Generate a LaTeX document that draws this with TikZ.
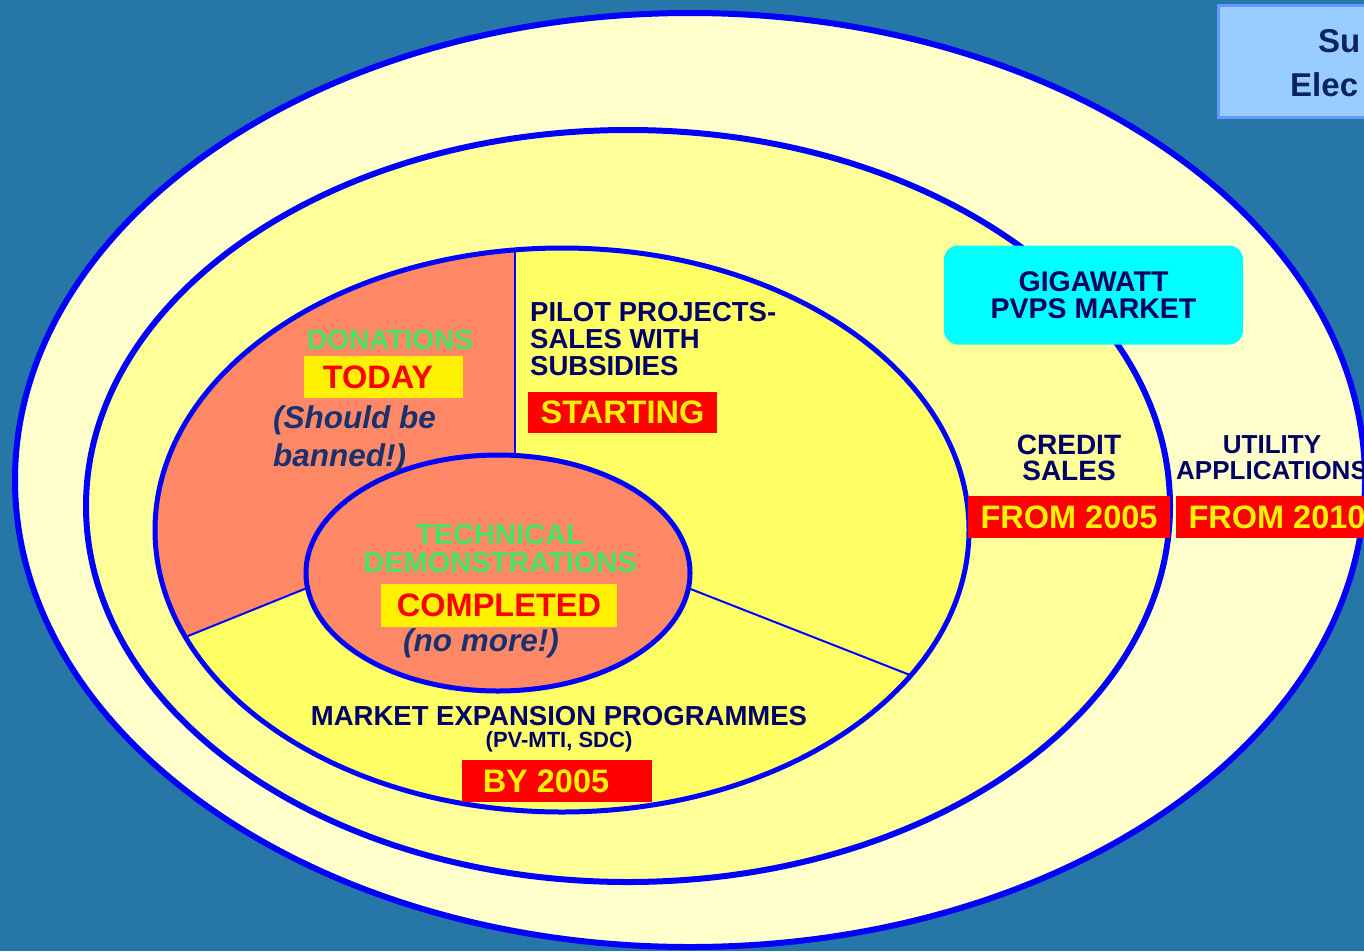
\documentclass[tikz,border=0pt]{standalone}
\usepackage{fontspec}
\setmainfont{Liberation Sans}
\definecolor{bg}{HTML}{2677A8}
\definecolor{ringblue}{HTML}{0000FF}
\definecolor{pale}{HTML}{FFFFCC}
\definecolor{midyel}{HTML}{FFFF99}
\definecolor{inyel}{HTML}{FFFF66}
\definecolor{salmon}{HTML}{FF8866}
\definecolor{navy}{HTML}{000066}
\definecolor{grn}{HTML}{47E55F}
\definecolor{notecol}{HTML}{1A3170}
\definecolor{cyanbox}{HTML}{00FFFF}
\definecolor{skyfill}{HTML}{99CCFF}
\definecolor{skyline}{HTML}{6699FF}
\definecolor{titlecol}{HTML}{0A2463}
\begin{document}
\begin{tikzpicture}[x=1pt,y=-1pt,
  ring/.style={draw=ringblue, line width=6pt},
  sepline/.style={draw=ringblue, line width=2pt},
  navytxt/.style={text=navy, font=\bfseries\fontsize{27.5}{27}\selectfont, align=center, inner sep=0pt},
  greentxt/.style={text=grn, font=\bfseries\fontsize{29}{28}\selectfont, align=center, inner sep=0pt},
  note/.style={text=notecol, font=\bfseries\itshape\fontsize{31.5}{38}\selectfont, inner sep=0pt},
  redtag/.style={fill=red, text=yellow, font=\bfseries\fontsize{32.5}{32}\selectfont, inner sep=0pt, minimum height=42pt},
  yeltag/.style={fill=yellow, text=red, font=\bfseries\fontsize{32.5}{32}\selectfont, inner sep=0pt, minimum height=42pt},
  titletxt/.style={text=titlecol, font=\bfseries\fontsize{33}{33}\selectfont, inner sep=0pt, anchor=west}
]
\useasboundingbox (0,0) rectangle (1364,951);
\clip (0,0) rectangle (1364,951);
\fill[bg] (0,0) rectangle (1364,951);

% rings
\filldraw[fill=pale, ring] (690,480) ellipse [x radius=675pt, y radius=467pt];
\filldraw[fill=midyel, ring] (628,506) ellipse [x radius=542pt, y radius=376pt];
\fill[inyel] (562,530) ellipse [x radius=407pt, y radius=282pt];
\begin{scope}
  \clip (562,530) ellipse [x radius=407pt, y radius=282pt];
  \fill[salmon] (515,200) -- (515,504) -- (188,636) -- (110,668) -- (110,200) -- cycle;
\end{scope}
\draw[ring, line width=5pt] (562,530) ellipse [x radius=407pt, y radius=282pt];

% sector lines
\coordinate (vtop) at (515,250);
\coordinate (vbot) at (515,458);
\coordinate (lout) at (188,636);
\coordinate (lin) at (307,588);
\coordinate (rin) at (688,588);
\coordinate (rout) at (910,675);
\draw[sepline] (vtop) -- (vbot);
\draw[sepline] (lout) -- (lin);
\draw[sepline] (rin) -- (rout);

% innermost
\filldraw[fill=salmon, ring, line width=5pt] (498,573) ellipse [x radius=192pt, y radius=118pt];

% top right title box
\draw[fill=skyfill, draw=skyline, line width=3pt] (1218,5) rectangle (1390,117);
\node[titletxt] (t1) at (1318,41) {Su};
\node[titletxt] (t2) at (1290,85) {Elec};

% gigawatt box
\node[fill=cyanbox, rounded corners=14pt, minimum width=299pt, minimum height=99pt,
      navytxt, font=\bfseries\fontsize{28.5}{27}\selectfont] (giga) at (1093.5,295) {GIGAWATT\\PVPS MARKET};

% donations sector
\node[greentxt, font=\bfseries\fontsize{28}{28}\selectfont] (don) at (390,340) {DONATIONS};
\node[yeltag, minimum width=159pt] (today) at (383.5,377) {TODAY\hspace*{11pt}};
\node[note, align=left, anchor=west] (ban) at (273,439) {(Should be\\banned!)};

% pilot projects
\node[navytxt, align=left, anchor=west] (pilot) at (530,339) {PILOT PROJECTS-\\SALES WITH\\SUBSIDIES};
\node[redtag, minimum width=189pt, minimum height=41pt] (start) at (622.5,412.5) {STARTING};

% technical demonstrations
\node[greentxt] (tech) at (500,549) {TECHNICAL\\DEMONSTRATIONS};
\node[yeltag, minimum width=236pt, minimum height=43pt] (comp) at (499,605.5) {COMPLETED};
\node[note] (nomore) at (481,643) {(no more!)};

% market expansion
\node[navytxt] (mep) at (559,716) {MARKET EXPANSION PROGRAMMES};
\node[navytxt, font=\bfseries\fontsize{22}{22}\selectfont] (pvmti) at (559,742) {(PV-MTI, SDC)};
\node[redtag, minimum width=190pt] (by) at (557,781) {BY 2005\hspace*{22pt}};

% credit sales
\node[navytxt, font=\bfseries\fontsize{28}{26}\selectfont] (credit) at (1069,458) {CREDIT\\SALES};
\node[redtag, minimum width=202pt] (f2005) at (1069,517) {FROM 2005};

% utility applications
\node[navytxt, font=\bfseries\fontsize{26}{26}\selectfont] (util) at (1272,458) {UTILITY\\APPLICATIONS};
\node[redtag, minimum width=202pt] (f2010) at (1277,517) {FROM 2010};
\end{tikzpicture}
\end{document}
